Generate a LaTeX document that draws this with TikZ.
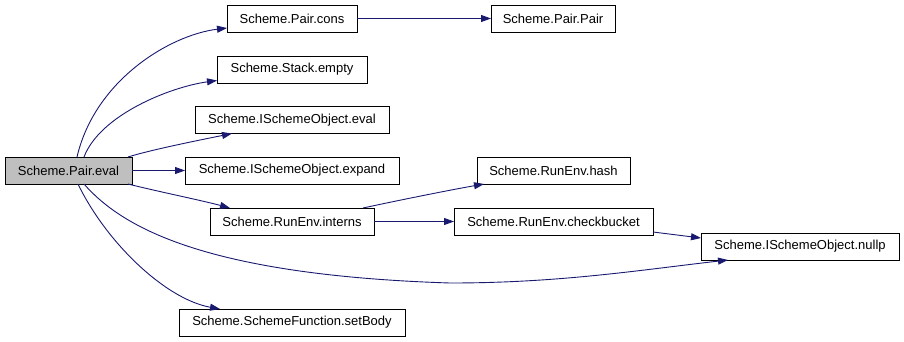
\documentclass[tikz,border=0pt]{standalone}
\usepackage{fontspec}
\setmainfont{Liberation Sans}
\usetikzlibrary{arrows.meta}
\definecolor{edgeblue}{HTML}{191970}
\definecolor{curgray}{HTML}{BFBFBF}
\begin{document}
\begin{tikzpicture}[x=1pt,y=-1pt,
  fn/.style={draw=black, line width=0.9pt, rectangle, inner sep=0pt, outer sep=0pt,
    minimum height=27pt, font=\fontsize{13}{15}\selectfont},
  call/.style={draw=edgeblue, line width=0.9pt,
    -{Triangle[length=10pt,width=7pt,fill=edgeblue]}}]
\useasboundingbox (0,0) rectangle (904,341);

% functions
\node[fn, fill=curgray, minimum width=127pt] (peval)   at (68.5,170.5) {Scheme.Pair.eval};
\node[fn, minimum width=130pt] (cons)    at (292,18.5)  {Scheme.Pair.cons};
\node[fn, minimum width=150pt] (empty)   at (292,69.5)  {Scheme.Stack.empty};
\node[fn, minimum width=194pt] (ieval)   at (292,120)   {Scheme.ISchemeObject.eval};
\node[fn, minimum width=214pt] (expand)  at (292,170.5) {Scheme.ISchemeObject.expand};
\node[fn, minimum width=164pt] (interns) at (292,221.5) {Scheme.RunEnv.interns};
\node[fn, minimum width=226pt] (setbody) at (292,322.5) {Scheme.SchemeFunction.setBody};
\node[fn, minimum width=124pt] (pair)    at (553,18.5)  {Scheme.Pair.Pair};
\node[fn, minimum width=153pt] (hash)    at (553.5,170.5) {Scheme.RunEnv.hash};
\node[fn, minimum width=199pt] (bucket)  at (553.5,221.5) {Scheme.RunEnv.checkbucket};
\node[fn, minimum width=198pt] (nullp)   at (800,246.5) {Scheme.ISchemeObject.nullp};

% calls
\draw[call] ([xshift=8.5pt]peval.north) .. controls (95,80) and (170,35) .. ([yshift=-9.5pt]cons.west);
\draw[call] ([xshift=15.5pt]peval.north) .. controls (100,115) and (170,87) .. ([yshift=-11pt]empty.west);
\draw[call] ([xshift=-4pt]peval.north east) .. controls (150,150) and (200,140) .. ([xshift=37pt]ieval.south west);
\draw[call] (peval.east) -- (expand.west);
\draw[call] ([xshift=-4pt]peval.south east) .. controls (160,192) and (200,200) .. ([xshift=20pt]interns.north west);
\draw[call] ([xshift=9.5pt]peval.south) .. controls (106,242) and (165,299) .. ([xshift=41pt]setbody.north west);
\draw[call] ([xshift=15.5pt]peval.south) .. controls (120,225) and (200,275) .. (450,283)
  .. controls (560,283) and (640,270) .. ([xshift=27pt]nullp.south west);
\draw[call] (cons.east) -- (pair.west);
\draw[call] ([xshift=-11pt]interns.north east) .. controls (400,200) and (450,190) .. ([xshift=7pt]hash.south west);
\draw[call] (interns.east) -- (bucket.west);
\draw[call] ([yshift=3pt]bucket.south east) -- ([yshift=-5pt]nullp.north west);
\end{tikzpicture}
\end{document}
